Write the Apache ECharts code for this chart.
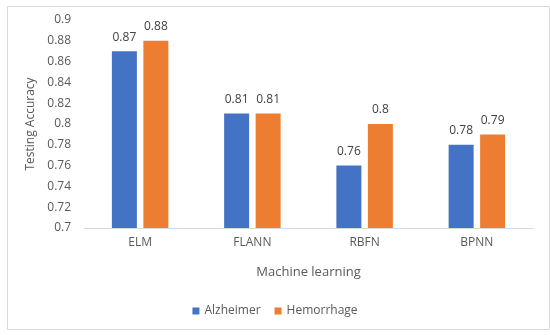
<!DOCTYPE html>
<html>
<head>
<meta charset="utf-8">
<script src="https://cdn.jsdelivr.net/npm/echarts@6/dist/echarts.min.js"></script>
<style>html,body{margin:0;padding:0;background:#fff}#c{width:550px;height:335px}</style>
</head>
<body>
<div id="c"></div>
<script>
const categories = ['ELM', 'FLANN', 'RBFN', 'BPNN'];
const alzheimer = [0.87, 0.81, 0.76, 0.78];
const hemorrhage = [0.88, 0.81, 0.80, 0.79];
const yTicks = { min: 0.7, max: 0.9, interval: 0.02 };

const font = 'Open Sans';
const chart = echarts.init(document.getElementById('c'));
chart.setOption({
  animation: false,
  textStyle: { fontFamily: font },
  graphic: [{
    type: 'rect', left: 5, top: 4, shape: { width: 542, height: 323 },
    style: { fill: 'none', stroke: '#d9d9d9', lineWidth: 1 }, silent: true
  }],
  grid: { left: 84, right: 17, top: 20, bottom: 107 },
  legend: {
    data: ['Alzheimer', 'Hemorrhage'],
    top: 300, left: 'center',
    itemWidth: 7, itemHeight: 7, itemGap: 14,
    icon: 'rect',
    textStyle: { color: '#595959', fontSize: 12, fontFamily: font }
  },
  xAxis: {
    type: 'category', data: categories,
    name: 'Machine learning', nameLocation: 'middle', nameGap: 38,
    nameTextStyle: { color: '#595959', fontSize: 13, fontFamily: font },
    axisLine: { lineStyle: { color: '#d9d9d9' } },
    axisTick: { show: false },
    axisLabel: { color: '#595959', fontSize: 12, margin: 9, fontFamily: font }
  },
  yAxis: {
    type: 'value', min: yTicks.min, max: yTicks.max, interval: yTicks.interval,
    name: 'Testing Accuracy', nameLocation: 'middle', nameGap: 47,
    nameTextStyle: { color: '#595959', fontSize: 12, fontFamily: font },
    axisLine: { show: false }, axisTick: { show: false },
    splitLine: { show: false },
    axisLabel: { color: '#595959', fontSize: 12, margin: 13, fontFamily: font,
      formatter: v => String(Math.round(v * 100) / 100) }
  },
  series: [
    { name: 'Alzheimer', type: 'bar', data: alzheimer, barWidth: 25, barGap: '26%',
      itemStyle: { color: '#4472C4' },
      label: { show: true, position: 'top', distance: 8, color: '#404040', fontSize: 12, fontFamily: font } },
    { name: 'Hemorrhage', type: 'bar', data: hemorrhage, barWidth: 25,
      itemStyle: { color: '#ED7D31' },
      label: { show: true, position: 'top', distance: 8, color: '#404040', fontSize: 12, fontFamily: font } }
  ]
});
</script>
</body>
</html>
